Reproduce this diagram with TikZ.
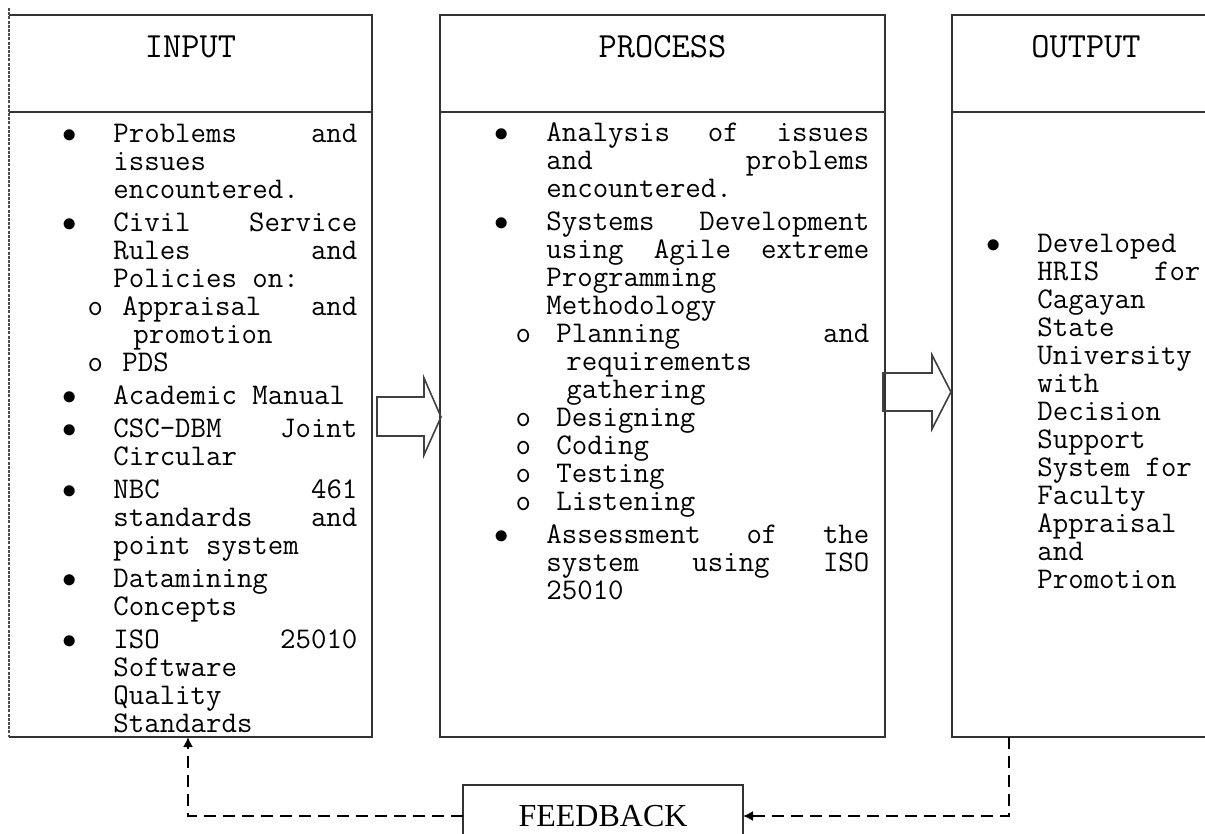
\documentclass[tikz,border=0pt]{standalone}
\usepackage{fontspec}
\newfontfamily\fbserif{Liberation Serif}
\usetikzlibrary{arrows.meta}

% positions of marks and text inside a column
\newlength{\bpos}\newlength{\tpos}\newlength{\spos}
\newlength{\stpos}\newlength{\scpos}\newlength{\epos}
\newcommand{\cols}[6]{\setlength{\bpos}{#1}\setlength{\tpos}{#2}\setlength{\spos}{#3}%
  \setlength{\stpos}{#4}\setlength{\scpos}{#5}\setlength{\epos}{#6}%
  \setlength{\lineskiplimit}{-20pt}}
\newcommand{\bitem}[1]{\makebox[0pt][l]{\hspace*{\bpos}\makebox[0pt]{$\bullet$}}%
  \hspace*{\tpos}\makebox[\dimexpr\epos-\tpos\relax][l]{#1}}
\newcommand{\cont}[1]{\hspace*{\tpos}\makebox[\dimexpr\epos-\tpos\relax][l]{#1}}
\newcommand{\sitem}[1]{\makebox[0pt][l]{\hspace*{\spos}\makebox[0pt]{o}}%
  \hspace*{\stpos}\makebox[\dimexpr\epos-\stpos\relax][l]{#1}}
\newcommand{\scont}[1]{\hspace*{\scpos}\makebox[\dimexpr\epos-\scpos\relax][l]{#1}}

\begin{document}
\begin{tikzpicture}[x=0.5pt,y=-0.5pt,
    frame/.style={draw=black!80,line width=0.8pt,inner sep=0pt,outer sep=0pt},
    area/.style={inner sep=0pt,outer sep=0pt},
    hdr/.style={font=\ttfamily\fontsize{17.7}{20}\selectfont},
    txt/.style={inner sep=0pt,anchor=base west,font=\ttfamily\fontsize{15}{14}\selectfont},
    blockarrow/.style={draw=black!75,line width=0.8pt,line join=miter},
    fb/.style={draw=black,line width=0.8pt,dash pattern=on 6pt off 3.5pt,-{Latex[length=5pt,width=5pt]}}]
    \useasboundingbox (0,0) rectangle (1205,834);
    \clip (0,0) rectangle (1205,834);

    % input column (left side is dashed)
    \node[area,minimum width=181.5pt,minimum height=48.5pt] (inhead) at (190.5,63.5) {};
    \node[area,minimum width=181.5pt,minimum height=312.5pt] (inbody) at (190.5,424.5) {};
    \draw[black!80,line width=0.8pt] (inhead.north west) -- (inhead.north east) -- (inbody.south east) -- (inbody.south west);
    \draw[black!80,line width=0.8pt] (inhead.south west) -- (inhead.south east);
    \draw[black!70,line width=0.6pt,dash pattern=on 1.5pt off 0.6pt] ([yshift=3.5pt]inhead.north west) -- (inbody.south west);

    % process and output columns
    \node[frame,minimum width=222.5pt,minimum height=48.5pt] (prhead) at (662.5,63.5) {};
    \node[frame,minimum width=222.5pt,minimum height=312.5pt] (prbody) at (662.5,424.5) {};
    \node[frame,minimum width=134pt,minimum height=48.5pt] (outhead) at (1086,63.5) {};
    \node[frame,minimum width=134pt,minimum height=312.5pt] (outbody) at (1086,424.5) {};

    \node[hdr] (inlabel) at (190.5,47) {INPUT};
    \node[hdr] (prlabel) at (662.5,47) {PROCESS};
    \node[hdr] (outlabel) at (1086,47) {OUTPUT};

    \node[txt] (intext) at (9,143) {\parbox[t]{181.5pt}{\cols{30pt}{52pt}{43pt}{56.5pt}{62pt}{174pt}%
        \bitem{Problems\hfill and}\\
        \cont{issues}\\
        \cont{encountered.}\\[2.5pt]
        \bitem{Civil\hfill Service}\\
        \cont{Rules\hfill and}\\
        \cont{Policies on:}\\
        \sitem{Appraisal\hfill and}\\
        \scont{promotion}\\
        \sitem{PDS}\\[2.5pt]
        \bitem{Academic Manual}\\[2.5pt]
        \bitem{CSC-DBM\hfill Joint}\\
        \cont{Circular}\\[2.5pt]
        \bitem{NBC\hfill 461}\\
        \cont{standards\hfill and}\\
        \cont{point system}\\[2.5pt]
        \bitem{Datamining}\\
        \cont{Concepts}\\[2.5pt]
        \bitem{ISO\hfill 25010}\\
        \cont{Software}\\
        \cont{Quality}\\
        \cont{Standards}}};

    \node[txt] (prtext) at (440,142) {\parbox[t]{222.5pt}{\cols{30.5pt}{53pt}{41.5pt}{58pt}{63pt}{214.5pt}%
        \bitem{Analysis\hfill of\hfill issues}\\
        \cont{and\hfill problems}\\
        \cont{encountered.}\\[2.5pt]
        \bitem{Systems\hfill Development}\\
        \cont{using\hfill Agile\hfill extreme}\\
        \cont{Programming}\\
        \cont{Methodology}\\
        \sitem{Planning\hfill and}\\
        \scont{requirements}\\
        \scont{gathering}\\
        \sitem{Designing}\\
        \sitem{Coding}\\
        \sitem{Testing}\\
        \sitem{Listening}\\[2.5pt]
        \bitem{Assessment\hfill of\hfill the}\\
        \cont{system\hfill using\hfill ISO}\\
        \cont{25010}}};

    \node[txt] (outtext) at (952,253) {\parbox[t]{134pt}{\cols{20.5pt}{42.5pt}{0pt}{0pt}{0pt}{124pt}%
        \bitem{Developed}\\
        \cont{HRIS\hfill for}\\
        \cont{Cagayan}\\
        \cont{State}\\
        \cont{University}\\
        \cont{with}\\
        \cont{Decision}\\
        \cont{Support}\\
        \cont{System for}\\
        \cont{Faculty}\\
        \cont{Appraisal}\\
        \cont{and}\\
        \cont{Promotion}}};

    % block arrows between the columns
    \draw[blockarrow] (377,397) -- (424,397) -- (424,378) -- (441,417) -- (424,455) -- (424,436) -- (377,436) -- cycle;
    \draw[blockarrow] (883,373) -- (932,373) -- (932,355) -- (951,392) -- (932,429) -- (932,411) -- (883,411) -- cycle;

    % feedback loop
    \node[frame,minimum width=140pt,minimum height=31pt,font=\fbserif\fontsize{16}{18}\selectfont] (feedback) at (603,816) {FEEDBACK};
    \coordinate (fbout) at ([xshift=28.5pt]outbody.south west);
    \coordinate (fbin) at ([xshift=89.5pt]inbody.south west);
    \draw[fb] (fbout) |- (feedback.east);
    \draw[fb] (feedback.west) -| (fbin);
\end{tikzpicture}
\end{document}
